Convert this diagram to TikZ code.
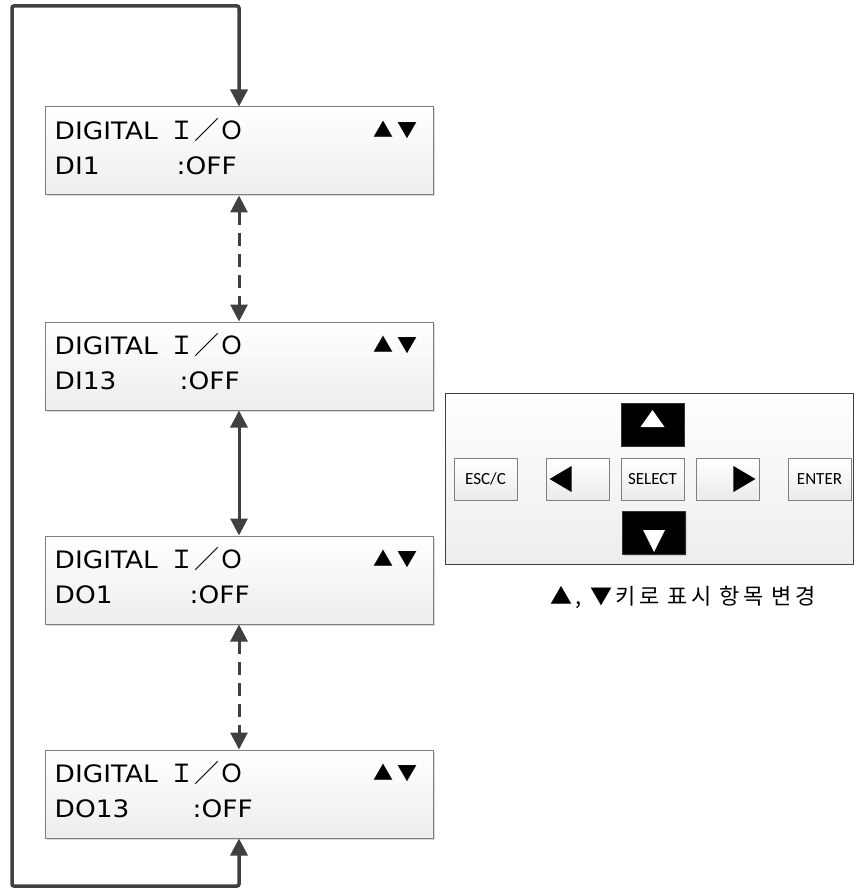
\documentclass[tikz,border=0pt]{standalone}
\usepackage{fontspec}
\usepackage{tikz}
\usetikzlibrary{arrows.meta,positioning,calc,shadows}
\newfontfamily\lcdfont[FakeStretch=1.1]{DejaVu Sans}
\newfontfamily\cjkfont{Noto Sans CJK KR}
\newfontfamily\captionfont[LetterSpace=15]{Noto Sans CJK KR}
\newfontfamily\keyfont{Carlito}
\definecolor{linegray}{HTML}{404040}
\definecolor{boxedge}{HTML}{7F7F7F}
\tikzstyle{lcd} = [rectangle, draw=boxedge, line width=1pt, top color=white, bottom color=black!7, minimum width=388pt, minimum height=88pt, inner sep=0pt, drop shadow={opacity=.3, shadow xshift=1.5pt, shadow yshift=-1.5pt}]
\tikzstyle{lcdtext} = [anchor=base west, inner sep=0pt, font=\lcdfont\fontsize{24}{28}\selectfont]
\tikzstyle{key} = [rectangle, draw=boxedge, line width=.8pt, top color=white, bottom color=black!8, minimum width=63pt, minimum height=42pt, inner sep=0pt, font=\keyfont\fontsize{17}{20}\selectfont, drop shadow={opacity=.25, shadow xshift=1.2pt, shadow yshift=-1.2pt}]
\tikzstyle{darkkey} = [rectangle, draw=black!80, fill=black, minimum width=63pt, minimum height=43pt, inner sep=0pt, drop shadow={opacity=.25, shadow xshift=1.2pt, shadow yshift=-1.2pt}]
\tikzstyle{link} = [line width=3pt, draw=linegray, {Triangle[width=17pt,length=17pt]}-{Triangle[width=17pt,length=17pt]}]
\begin{document}
\begin{tikzpicture}[x=1pt, y=-1pt]
                \useasboundingbox (0,0) rectangle (856,890);
                \node[lcd] (box1) at (239, 151) {};
                \node[lcd] (box2) at (239, 366) {};
                \node[lcd] (box3) at (239, 580) {};
                \node[lcd] (box4) at (239, 794) {};

                \foreach \b/\name/\x in {box1/DI1/177, box2/DI13/180, box3/DO1/190, box4/DO13/193} {
                    \node[lcdtext] (\b-head) at ($(\b.north west)+(10,33)$) {DIGITAL\hspace{12pt}{\cjkfont\fontsize{25}{28}\selectfont Ｉ／Ｏ}};
                    \node[lcdtext] (\b-name) at ($(\b.north west)+(10,68)$) {\name};
                    \node[lcdtext] (\b-value) at ($(\b.north west)+(\x-45,68)$) {:OFF};
                    \node[anchor=base east, inner sep=0pt, font=\cjkfont\fontsize{20}{24}\selectfont] (\b-keys) at ($(\b.north east)+(-16,31)$) {▲\hspace{4pt}▼};
                }

                \coordinate (tl) at (12, 6);
                \coordinate (bl) at (12, 886);
                \draw[link, line width=3.5pt, rounded corners=2pt] (box1.north) |- (tl) -- (bl) -| (box4.south);
                \draw[link, dash pattern=on 13pt off 8pt] (box1.south) -- (box2.north);
                \draw[link] (box2.south) -- (box3.north);
                \draw[link, dash pattern=on 13pt off 8pt] (box3.south) -- (box4.north);

                \node[rectangle, draw=linegray, line width=1pt, top color=white, bottom color=black!7, minimum width=408pt, minimum height=171pt] (keypad) at (649.5, 478.5) {};
                \node[darkkey] (kup) at (652.5, 424.5) {};
                \node[key] (kesc) at (485.5, 479) {ESC/C};
                \node[key] (kleft) at (577.5, 479) {};
                \node[key] (ksel) at (652.5, 479) {SELECT};
                \node[key] (kright) at (727.5, 479) {};
                \node[key] (kenter) at (819.5, 479) {ENTER};
                \node[darkkey] (kdown) at (654, 533) {};

                \fill[black] ($(kleft.west)+(4,0)$) -- ($(kleft.west)+(26,-13)$) -- ($(kleft.west)+(26,13)$) -- cycle;
                \fill[black] ($(kright.east)+(-4,0)$) -- ($(kright.east)+(-26,-13)$) -- ($(kright.east)+(-26,13)$) -- cycle;
                \fill[white] ($(kup.center)+(0,-14.5)$) -- ($(kup.center)+(-12,2.5)$) -- ($(kup.center)+(12,2.5)$) -- cycle;
                \fill[white] ($(kdown.center)+(0,19)$) -- ($(kdown.center)+(-11,-3)$) -- ($(kdown.center)+(11,-3)$) -- cycle;

                \node[font=\captionfont\fontsize{22}{26}\selectfont] (caption) at (683, 597) {▲, ▼키로 표시 항목 변경};
            \end{tikzpicture}
\end{document}
